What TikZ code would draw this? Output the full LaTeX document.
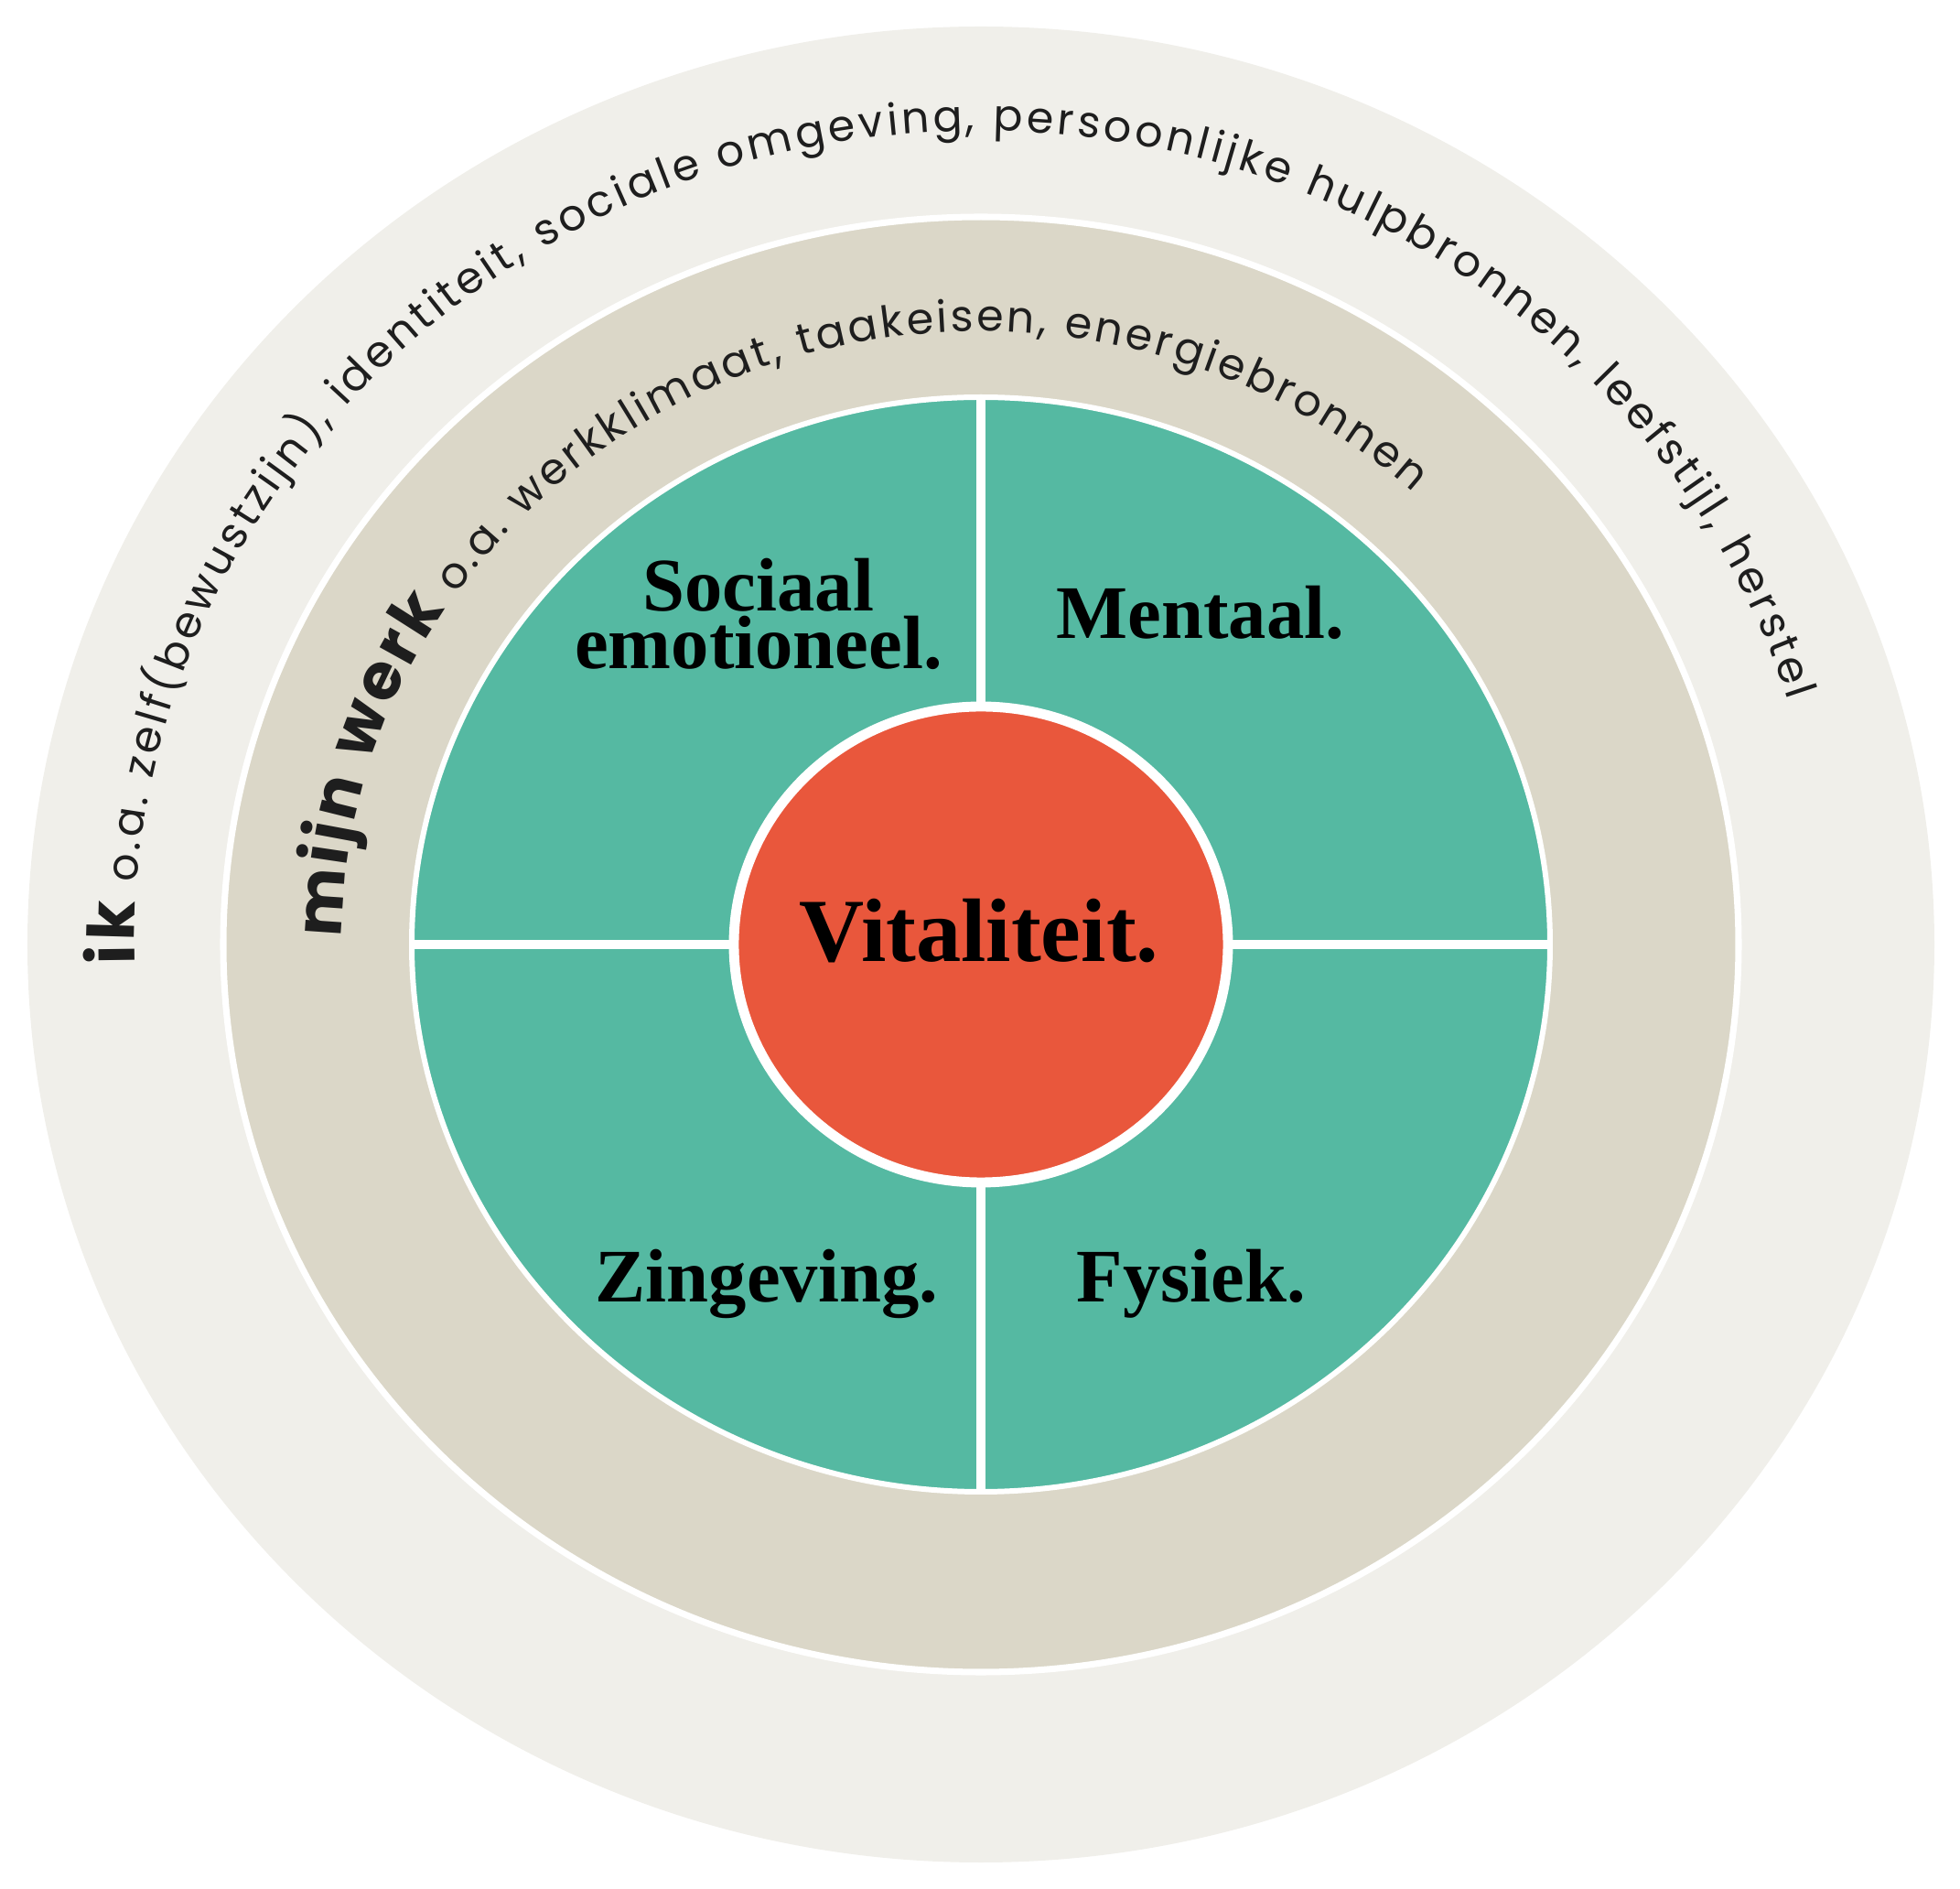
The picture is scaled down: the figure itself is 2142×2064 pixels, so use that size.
\documentclass[tikz,border=0pt]{standalone}
\usepackage{fontspec}
\usetikzlibrary{decorations.text}
\newfontfamily\arcfont{Poppins}
\newfontfamily\kopfont{Liberation Serif}
\definecolor{ikgrijs}{HTML}{F0EFEA}
\definecolor{werkbeige}{HTML}{DBD7C8}
\definecolor{vitgroen}{HTML}{55B9A2}
\definecolor{vitrood}{HTML}{E9573C}
\definecolor{inkt}{HTML}{1E1E1E}
\newcommand{\arcklein}{\color{inkt}\arcfont\fontsize{13.5}{16}\selectfont}
\newcommand{\arcgroot}{\color{inkt}\arcfont\bfseries\fontsize{20}{24}\selectfont}
\begin{document}
\begin{tikzpicture}[x=0.01cm, y=0.01cm,
  kop/.style={font=\kopfont\bfseries\fontsize{23.5}{18}\selectfont, text=black, align=center},
  scheiding/.style={draw=white, line width=#1}]
\useasboundingbox (-1072,-1032) rectangle (1070,1032);
% ringen
\fill[ikgrijs] (0,0) ellipse[x radius=1042, y radius=1003];
\filldraw[fill=werkbeige, scheiding=2pt] (0,0) ellipse[x radius=828, y radius=795];
\filldraw[fill=vitgroen, scheiding=1.7pt] (0,0) ellipse[x radius=622, y radius=598];
\draw[scheiding=2.6pt] (-622,0) -- (622,0);
\draw[scheiding=2.6pt] (0,-598) -- (0,598);
\filldraw[fill=vitrood, scheiding=3.1pt] (0,0) ellipse[x radius=270, y radius=260];
% teksten langs de ringen
\path[decorate, decoration={text along path, text align={fit to path},
  text={|\arcgroot|ik|\arcklein| o.a. zelf(bewustzijn), identiteit, sociale omgeving, persoonlijke hulpbronnen, leefstijl, herstel}}]
  (181.4:925 and 889) arc[start angle=181.4, end angle=17.5, x radius=925, y radius=889];
\path[decorate, decoration={text along path, text align={fit to path},
  text={|\arcgroot|mijn werk|\arcklein| o.a. werkklimaat, taakeisen, energiebronnen}}]
  (179.4:699 and 670) arc[start angle=179.4, end angle=47.5, x radius=699, y radius=670];
% kwadranten
\node[kop] (sociaal) at (-243,361) {Sociaal\\emotioneel.};
\node[kop, anchor=base] (mentaal) at (240,334) {Mentaal.};
\node[kop, anchor=base] (zingeving) at (-234,-391) {Zingeving.};
\node[kop, anchor=base] (fysiek) at (230,-391) {Fysiek.};
\node[kop, anchor=base] (vit) at (-2,-19) {\fontsize{28}{30}\selectfont Vitaliteit.};
\end{tikzpicture}
\end{document}
